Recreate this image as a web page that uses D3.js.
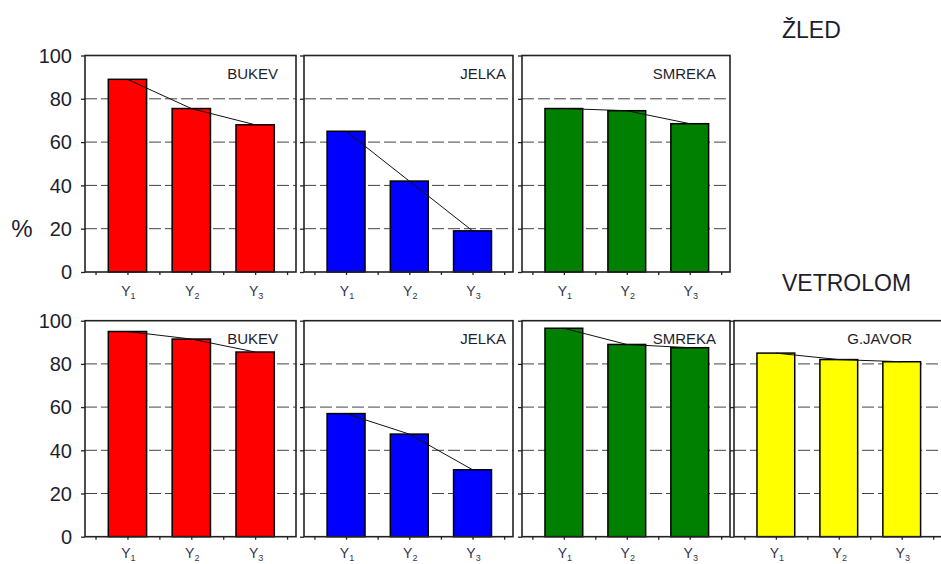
<!DOCTYPE html>
<html>
<head>
<meta charset="utf-8">
<script src="https://cdn.jsdelivr.net/npm/d3@7/dist/d3.min.js"></script>
<style>
  html, body { margin: 0; padding: 0; background: #fff; }
  svg { display: block; font-family: "Liberation Sans", Arial, sans-serif; }
</style>
</head>
<body>
<svg id="chart" width="941" height="564"></svg>
<script>
// ---------- data ----------
const categories = ["1", "2", "3"];          // subscripts of Y labels
const categoryLetter = "Y";
const yTicks = [0, 20, 40, 60, 80, 100];
const gridValues = [20, 40, 60, 80];

const rowTitles = ["ŽLED", "VETROLOM"];

const zledSpecies = ["BUKEV", "JELKA", "SMREKA"];
const zledBukev = [89, 75.5, 68];
const zledJelka = [65, 42, 19];
const zledSmreka = [75.5, 74.5, 68.5];

const vetrolomSpecies = ["BUKEV", "JELKA", "SMREKA", "G.JAVOR"];
const vetrolomBukev = [95, 91.5, 85.5];
const vetrolomJelka = [57, 47.5, 31];
const vetrolomSmreka = [96.5, 89, 87.5];
const vetrolomGJavor = [85, 82, 81];

const speciesColors = ["#ff0000", "#0000ff", "#008000", "#ffff00"];

// ---------- layout ----------
const colLeft = [85, 304, 522, 734];
const colWidth = [211, 209, 208, 208];
const labelInset = [18, 7, 14, 30];
const rowTop = [55.5, 320.7];
const rowHeight = [216.5, 216];
const catLabelOffset = [24, 21.5];

const rows = [
  { title: rowTitles[0], species: zledSpecies, values: [zledBukev, zledJelka, zledSmreka] },
  { title: rowTitles[1], species: vetrolomSpecies, values: [vetrolomBukev, vetrolomJelka, vetrolomSmreka, vetrolomGJavor] }
];

const svg = d3.select("#chart");
const txtColor = "#1e1e2e";

rows.forEach((row, ri) => {
  const top = rowTop[ri], h = rowHeight[ri];
  const y = d3.scaleLinear().domain([0, 100]).range([top + h, top]);

  row.values.forEach((vals, ci) => {
    const left = colLeft[ci], w = colWidth[ci];
    const x = d3.scaleLinear().domain([0.335, 3.64]).range([left, left + w]);
    const bw = x(1.3) - x(0.7);
    const g = svg.append("g");

    // gridlines
    g.selectAll("line.grid").data(gridValues).join("line")
      .attr("x1", left).attr("x2", left + w)
      .attr("y1", d => y(d)).attr("y2", d => y(d))
      .attr("stroke", "#444").attr("stroke-width", 1)
      .attr("stroke-dasharray", "12,4");

    // bars
    g.selectAll("rect.bar").data(vals).join("rect")
      .attr("x", (d, i) => x(i + 1) - bw / 2)
      .attr("width", bw)
      .attr("y", d => y(d))
      .attr("height", d => y(0) - y(d))
      .attr("fill", speciesColors[ci])
      .attr("stroke", "#000").attr("stroke-width", 1.5);

    // connecting line
    g.append("path").datum(vals)
      .attr("d", d3.line().x((d, i) => x(i + 1)).y(d => y(d)))
      .attr("fill", "none").attr("stroke", "#111").attr("stroke-width", 1);

    // frame
    g.append("rect").attr("x", left).attr("y", top).attr("width", w).attr("height", h)
      .attr("fill", "none").attr("stroke", "#222").attr("stroke-width", 1.6);

    // left axis ticks
    const ay = g.append("g").attr("transform", `translate(${left},0)`)
      .call(d3.axisLeft(y).tickValues(yTicks).tickSize(4).tickSizeOuter(0).tickFormat(""));
    ay.select(".domain").remove();
    ay.selectAll("line").attr("stroke", "#222").attr("stroke-width", 1.3);

    // bottom axis ticks
    const ax = g.append("g").attr("transform", `translate(0,${top + h})`)
      .call(d3.axisBottom(x).tickValues([0.5, 1, 1.5, 2, 2.5, 3, 3.5]).tickSize(3).tickSizeOuter(0).tickFormat(""));
    ax.select(".domain").remove();
    ax.selectAll("line").attr("stroke", "#222").attr("stroke-width", 1.3);

    // category labels
    const lab = g.selectAll("text.cat").data(categories).join("text")
      .attr("x", (d, i) => x(i + 1) + 1)
      .attr("y", top + h + catLabelOffset[ri])
      .attr("text-anchor", "middle")
      .attr("fill", "#33334d")
      .attr("font-size", 14);
    lab.append("tspan").text(categoryLetter);
    lab.append("tspan").attr("font-size", 9).attr("dy", 3).text(d => d);

    // species label
    g.append("text")
      .attr("x", left + w - labelInset[ci])
      .attr("y", top + 23)
      .attr("text-anchor", "end")
      .attr("font-size", 15)
      .attr("fill", txtColor)
      .text(row.species[ci]);

    // y tick labels for first column
    if (ci === 0) {
      g.selectAll("text.yl").data(yTicks).join("text")
        .attr("x", left - 13)
        .attr("y", d => y(d))
        .attr("dy", "0.36em")
        .attr("text-anchor", "end")
        .attr("font-size", 20)
        .attr("fill", txtColor)
        .text(d => d);
    }
  });
});

// % label
svg.append("text").attr("x", 22).attr("y", 237).attr("text-anchor", "middle")
  .attr("font-size", 24).attr("fill", txtColor).text("%");

// row titles
svg.append("text").attr("x", 782).attr("y", 38).attr("font-size", 23).attr("fill", txtColor).text(rows[0].title);
svg.append("text").attr("x", 782).attr("y", 291).attr("font-size", 23).attr("fill", txtColor).text(rows[1].title);
</script>
</body>
</html>
